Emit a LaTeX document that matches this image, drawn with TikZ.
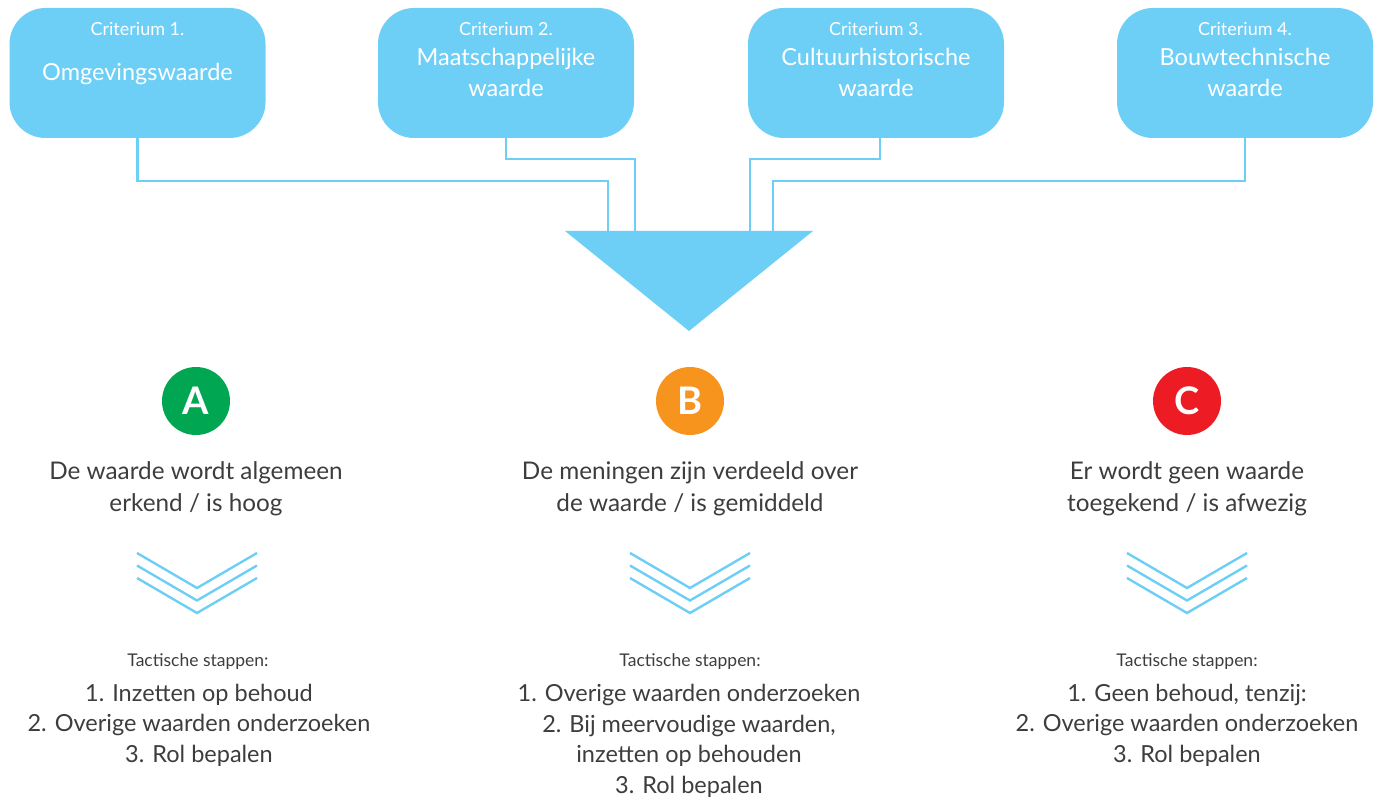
\documentclass[tikz,border=0pt]{standalone}
\usepackage{fontspec}
\setmainfont{Lato}
\definecolor{sky}{HTML}{6DCFF6}
\definecolor{ink}{HTML}{3D3D3D}
\definecolor{gA}{HTML}{00A651}
\definecolor{oB}{HTML}{F7941D}
\definecolor{rC}{HTML}{ED1C24}
\begin{document}
\begin{tikzpicture}[x=1pt,y=-1pt,
  crit/.style={fill=sky, rounded corners=36pt, minimum width=256pt, minimum height=130pt, inner sep=0pt},
  critsmall/.style={text=white, inner sep=0pt, anchor=base, font=\fontsize{18}{18}\selectfont},
  critbig/.style={text=white, inner sep=0pt, anchor=base, align=center, font=\fontsize{23.5}{31}\selectfont},
  conn/.style={draw=sky, line width=2.6pt},
  badge/.style={circle, minimum size=68pt, inner sep=0pt, text=white, font=\fontsize{38}{38}\selectfont\bfseries},
  verdict/.style={text=ink, inner sep=0pt, anchor=base, align=center, font=\fontsize{24.3}{32}\selectfont},
  tact/.style={text=ink, inner sep=0pt, anchor=base, font=\fontsize{17.5}{17.5}\selectfont},
  steps/.style={text=ink, inner sep=0pt, anchor=base, align=center, font=\fontsize{23.5}{30.5}\selectfont},
  chev/.style={draw=sky, line width=2.4pt}
]
\useasboundingbox (0,0) rectangle (1378,799);

% criteria boxes
\node[crit] (b1) at (137.5,73) {};
\node[crit] (b2) at (506,73) {};
\node[crit] (b3) at (876,73) {};
\node[crit] (b4) at (1245,73) {};

\node[critsmall] (c1) at (137.5,36) {Criterium 1.};
\node[critsmall] (c2) at (506,36) {Criterium 2.};
\node[critsmall] (c3) at (876,36) {Criterium 3.};
\node[critsmall] (c4) at (1245,36) {Criterium 4.};

\node[critbig] (n1) at (137.5,81) {Omgevingswaarde};
\node[critbig] (n2) at (506,97) {Maatschappelijke\\waarde};
\node[critbig] (n3) at (876,97) {Cultuurhistorische\\waarde};
\node[critbig] (n4) at (1245,97) {Bouwtechnische\\waarde};

% funnel triangle
\coordinate (tl) at (565,231);
\coordinate (tr) at (813,231);
\coordinate (tip) at (689,331);
\fill[sky] (tl) -- (tr) -- (tip) -- cycle;
\coordinate (t1) at (608,233);
\coordinate (t2) at (635,233);
\coordinate (t3) at (750,233);
\coordinate (t4) at (773,233);

\draw[conn] (b1.south) |- (t1 |- 0,181) -- (t1);
\draw[conn] (b2.south) |- (t2 |- 0,159) -- (t2);
\draw[conn] ([xshift=4pt]b3.south) |- (t3 |- 0,159) -- (t3);
\draw[conn] (b4.south) |- (t4 |- 0,181) -- (t4);

% badges
\node[badge, fill=gA] (cA) at (196,401) {A};
\node[badge, fill=oB] (cB) at (690,401) {B};
\node[badge, fill=rC] (cC) at (1187,401) {C};

\node[verdict] (vA) at (196,511) {De waarde wordt algemeen\\erkend / is hoog};
\node[verdict] (vB) at (690,511) {De meningen zijn verdeeld over\\de waarde / is gemiddeld};
\node[verdict] (vC) at (1187,511) {Er wordt geen waarde\\toegekend / is afwezig};

% chevrons
\foreach \cx in {197,690,1187}{
  \foreach \dy in {0,12.5,25}{
    \draw[chev] (\cx-60,553+\dy) -- (\cx,588+\dy) -- (\cx+60,553+\dy);
  }
}

\node[tact] (sA) at (198,666) {Tactische stappen:};
\node[tact] (sB) at (690,666) {Tactische stappen:};
\node[tact] (sC) at (1187,666) {Tactische stappen:};

\node[steps] (lA) at (199,762) {1. Inzetten op behoud\\2. Overige waarden onderzoeken\\3. Rol bepalen};
\node[steps] (lB) at (689,793) {1. Overige waarden onderzoeken\\2. Bij meervoudige waarden,\\inzetten op behouden\\3. Rol bepalen};
\node[steps] (lC) at (1187,762) {1. Geen behoud, tenzij:\\2. Overige waarden onderzoeken\\3. Rol bepalen};
\end{tikzpicture}
\end{document}
